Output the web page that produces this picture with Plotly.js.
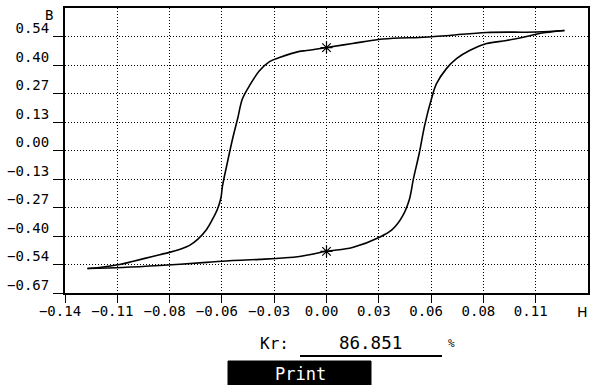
<!DOCTYPE html>
<html>
<head>
<meta charset="utf-8">
<script src="https://cdn.plot.ly/plotly-3.0.1.min.js"></script>
<style>
html,body{margin:0;padding:0;background:#fff;}
#chart{width:597px;height:385px;}
</style>
</head>
<body>
<div id="chart"></div>
<script>
// Descending branch (from +Bm tip to -Bm tip)
var hDown = [0.1274, 0.1124, 0.0857, 0.0658, 0.0498, 0.0391, 0.0278, 0.0139, 0.0, -0.0107, -0.0145, -0.0252, -0.0305, -0.0359, -0.0412, -0.0450, -0.0476, -0.0503, -0.0530, -0.0557, -0.0565, -0.0584, -0.0610, -0.0642, -0.0690, -0.0733, -0.0787, -0.0841, -0.0931, -0.1039, -0.1108, -0.1215, -0.1280];
var bDown = [0.564, 0.557, 0.555, 0.541, 0.531, 0.529, 0.522, 0.503, 0.484, 0.470, 0.466, 0.437, 0.418, 0.375, 0.305, 0.243, 0.149, 0.054, -0.054, -0.168, -0.222, -0.276, -0.323, -0.371, -0.418, -0.446, -0.465, -0.479, -0.498, -0.522, -0.536, -0.550, -0.555];
// Ascending branch (from -Bm tip to +Bm tip)
var hUp = [-0.1280, -0.1092, -0.0894, -0.0642, -0.0503, -0.0359, -0.0145, 0.0, 0.0139, 0.0284, 0.0353, 0.0407, 0.0444, 0.0465, 0.0498, 0.0525, 0.0562, 0.0589, 0.0642, 0.0696, 0.0766, 0.0857, 0.0964, 0.1071, 0.1140, 0.1274];
var bUp = [-0.555, -0.550, -0.541, -0.526, -0.517, -0.512, -0.498, -0.474, -0.456, -0.408, -0.371, -0.309, -0.229, -0.135, -0.007, 0.116, 0.243, 0.314, 0.385, 0.432, 0.470, 0.503, 0.517, 0.536, 0.550, 0.564];
// Remanence markers (crossings at H = 0)
var markH = [0.0, 0.0];
var markB = [0.484, -0.474];

var xTickVals = [-0.14, -0.112, -0.084, -0.056, -0.028, 0, 0.028, 0.056, 0.084, 0.112];
var xTickText = ["\u22120.14", "\u22120.11", "\u22120.08", "\u22120.06", "\u22120.03", "0.00", "0.03", "0.06", "0.08", "0.11"];
var yTickVals = [0.536, 0.402, 0.268, 0.134, 0, -0.134, -0.268, -0.402, -0.536, -0.67];
var yTickText = ["0.54", "0.40", "0.27", "0.13", "0.00", "\u22120.13", "\u22120.27", "\u22120.40", "\u22120.54", "\u22120.67"];
var xRange = [-0.14, 0.14];
var yRange = [-0.67, 0.67];

var xAxisLabel = "H";
var yAxisLabel = "B";
var krLabel = "Kr:";
var krValue = "86.851";
var krUnit = "%";
var buttonLabel = "Print";

// layout geometry helpers (pixel -> paper)
var L = 65, R = 588, T = 8, B = 293;
function px(x){ return (x - L) / (R - L); }
function py(y){ return (B - y) / (B - T); }

var mono = "DejaVu Sans Mono, monospace";

var curveLine = {color: "#000", width: 1.6, shape: "spline", smoothing: 1.0};
var traces = [
  {x: hDown, y: bDown, mode: "lines", line: curveLine, hoverinfo: "skip"},
  {x: hUp, y: bUp, mode: "lines", line: curveLine, hoverinfo: "skip"},
  {x: markH, y: markB, mode: "markers", marker: {symbol: "asterisk-open", size: 10, color: "#000", line: {color: "#000", width: 1.2}}, hoverinfo: "skip"}
];

var layout = {
  width: 597, height: 385,
  margin: {l: L, r: 597 - R, t: T, b: 385 - B, pad: 0},
  paper_bgcolor: "#fff", plot_bgcolor: "#fff",
  showlegend: false,
  font: {family: mono, size: 14, color: "#000"},
  xaxis: {
    range: xRange, tickmode: "array", tickvals: xTickVals, ticktext: xTickText,
    showgrid: true, gridcolor: "#000", griddash: "1px,2px", gridwidth: 1,
    zeroline: false, showline: true, mirror: true, linecolor: "#000", linewidth: 2,
    ticks: "outside", ticklen: 8, tickwidth: 1, tickcolor: "#000",
    ticklabelshift: -5, ticklabelstandoff: -4,
    tickfont: {family: mono, size: 14, color: "#000"}
  },
  yaxis: {
    range: yRange, tickmode: "array", tickvals: yTickVals, ticktext: yTickText,
    showgrid: true, gridcolor: "#000", griddash: "1px,2px", gridwidth: 1,
    zeroline: false, showline: true, mirror: true, linecolor: "#000", linewidth: 2,
    ticks: "outside", ticklen: 10, tickwidth: 1, tickcolor: "#000",
    ticklabelshift: -8, ticklabelstandoff: 1,
    tickfont: {family: mono, size: 14, color: "#000"}
  },
  shapes: [
    {type: "line", xref: "paper", yref: "paper", x0: px(300), x1: px(442), y0: py(356), y1: py(356), line: {color: "#000", width: 2}},
    {type: "rect", xref: "paper", yref: "paper", x0: px(228), x1: px(371), y0: py(361), y1: py(390), fillcolor: "#000", line: {color: "#000", width: 1}}
  ],
  annotations: [
    {text: yAxisLabel, xref: "paper", yref: "paper", x: px(49), y: py(15), showarrow: false, xanchor: "center", yanchor: "middle", font: {family: mono, size: 14}},
    {text: xAxisLabel, xref: "paper", yref: "paper", x: px(582), y: py(312), showarrow: false, xanchor: "center", yanchor: "middle", font: {family: "DejaVu Sans, sans-serif", size: 14}},
    {text: krLabel, xref: "paper", yref: "paper", x: px(274), y: py(343), showarrow: false, xanchor: "center", yanchor: "middle", font: {family: mono, size: 16}},
    {text: krValue, xref: "paper", yref: "paper", x: px(370), y: py(343), showarrow: false, xanchor: "center", yanchor: "middle", font: {family: mono, size: 17.5}},
    {text: krUnit, xref: "paper", yref: "paper", x: px(451), y: py(343), showarrow: false, xanchor: "center", yanchor: "middle", font: {family: mono, size: 11}},
    {text: buttonLabel, xref: "paper", yref: "paper", x: px(300), y: py(374), showarrow: false, xanchor: "center", yanchor: "middle", font: {family: mono, size: 17, color: "#fff"}}
  ]
};

Plotly.newPlot("chart", traces, layout, {staticPlot: true, displayModeBar: false});
</script>
</body>
</html>
